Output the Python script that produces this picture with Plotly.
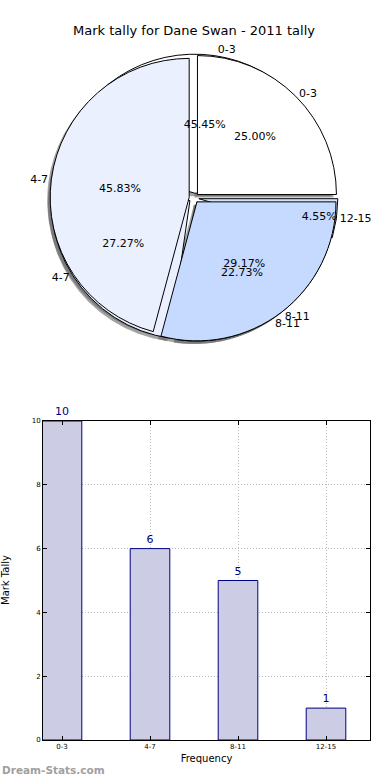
import plotly.graph_objects as go

# ---- data ----
title_text = "Mark tally for Dane Swan - 2011 tally"
pie1_labels = ["0-3", "4-7", "8-11"]
pie1_values = [6, 11, 7]
pie2_labels = ["0-3", "4-7", "8-11", "12-15"]
pie2_values = [10, 6, 5, 1]
bar_categories = ["0-3", "4-7", "8-11", "12-15"]
bar_values = [10, 6, 5, 1]
y_ticks = [0, 2, 4, 6, 8, 10]

# ---- styles ----
FONT = "DejaVu Sans"
pie1_colors = ["#FFFFFF", "#EAF0FE", "#C6D9FF"]
pie2_colors = ["#FFFFFF", "#EAF0FE", "#C6D9FF", "#D6E3FF"]
PULL = 0.035
W, H = 390, 780

cx, cy, r = 194, 198, 139
half = r * (1 + PULL)
dom_x = [(cx - half) / W, (cx + half) / W]
dom_y = [1 - (cy + half) / H, 1 - (cy - half) / H]
sdx, sdy = -3 / W, -3 / H
shadow_x = [dom_x[0] + sdx, dom_x[1] + sdx]
shadow_y = [dom_y[0] + sdy, dom_y[1] + sdy]

fig = go.Figure()

# counter-clockwise from 3 o'clock == clockwise from 3 o'clock with reversed order
common = dict(sort=False, direction="clockwise", rotation=90,
              hoverinfo="skip", showlegend=False)


def rev(seq):
    return list(seq)[::-1]


# shadows
for labels, values in [(pie2_labels, pie2_values), (pie1_labels, pie1_values)]:
    fig.add_trace(go.Pie(labels=rev(labels), values=rev(values), pull=[PULL] * len(values),
                         domain=dict(x=shadow_x, y=shadow_y),
                         marker=dict(colors=["rgba(90,90,90,0.55)"] * len(values),
                                     line=dict(width=0)),
                         textinfo="none", **common))

# pie slices (pie2 beneath, pie1 on top)
for labels, values, colors in [(pie2_labels, pie2_values, pie2_colors),
                               (pie1_labels, pie1_values, pie1_colors)]:
    fig.add_trace(go.Pie(labels=rev(labels), values=rev(values), pull=[PULL] * len(values),
                         domain=dict(x=dom_x, y=dom_y),
                         marker=dict(colors=rev(colors), line=dict(color="black", width=1)),
                         textinfo="none", **common))

# text layers (transparent)
for labels, values in [(pie2_labels, pie2_values), (pie1_labels, pie1_values)]:
    n = len(values)
    fig.add_trace(go.Pie(labels=rev(labels), values=rev(values), pull=[PULL] * n,
                         domain=dict(x=dom_x, y=dom_y),
                         marker=dict(colors=["rgba(0,0,0,0)"] * n, line=dict(width=0)),
                         texttemplate="%{percent:.2%}", textposition="inside",
                         insidetextorientation="horizontal",
                         textfont=dict(family=FONT, size=11, color="black"), **common))
    fig.add_trace(go.Pie(labels=rev(labels), values=rev(values), pull=[PULL] * n,
                         domain=dict(x=dom_x, y=dom_y),
                         marker=dict(colors=["rgba(0,0,0,0)"] * n, line=dict(width=0)),
                         texttemplate="%{label}", textposition="outside",
                         textfont=dict(family=FONT, size=11, color="black"), **common))

# bar chart
fig.add_trace(go.Bar(x=bar_categories, y=bar_values, width=0.45,
                     marker=dict(color="#CCCCE5", line=dict(color="#000080", width=1)),
                     text=[str(v) for v in bar_values], textposition="outside",
                     textfont=dict(family=FONT, size=11, color="#000080"),
                     cliponaxis=False, hoverinfo="skip", showlegend=False))

axis_common = dict(showline=True, mirror="ticks", linecolor="black", linewidth=1,
                   ticks="inside", ticklen=4, tickcolor="black",
                   showgrid=True, gridcolor="#b8b8b8", griddash="1px,2px", gridwidth=1,
                   zeroline=False, automargin=False, fixedrange=True,
                   tickfont=dict(family=FONT, size=7, color="black"))

fig.update_layout(
    template="none",
    width=W, height=H,
    margin=dict(l=0, r=0, t=0, b=0),
    paper_bgcolor="white", plot_bgcolor="white",
    font=dict(family=FONT, color="black"),
    uniformtext=dict(minsize=11, mode="show"),
    title=dict(text=title_text, x=194 / W, xanchor="center", y=1 - 30 / H, yanchor="middle",
               font=dict(family=FONT, size=13, color="black")),
    xaxis=dict(domain=[43 / W, 370 / W], range=[-0.216, 3.5], type="category",
               title=dict(text="Frequency", font=dict(family=FONT, size=10), standoff=4),
               **axis_common),
    yaxis=dict(domain=[1 - 740 / H, 1 - 421 / H], range=[0, 10], tickvals=y_ticks,
               **axis_common),
    annotations=[
        dict(text="Mark Tally", textangle=-90, xref="paper", yref="paper",
             x=5 / W, y=1 - 580 / H, xanchor="center", yanchor="middle", showarrow=False,
             font=dict(family=FONT, size=10, color="black")),
        dict(text="<b>Dream-Stats.com</b>", xref="paper", yref="paper",
             x=0, y=1 - 770 / H, xanchor="left", yanchor="middle", showarrow=False,
             font=dict(family=FONT, size=10.5, color="#a0a0a0")),
    ],
)

fig.write_html("out.html", config={"displayModeBar": False},
               post_script="document.body.style.margin='0';document.body.style.padding='0';")
